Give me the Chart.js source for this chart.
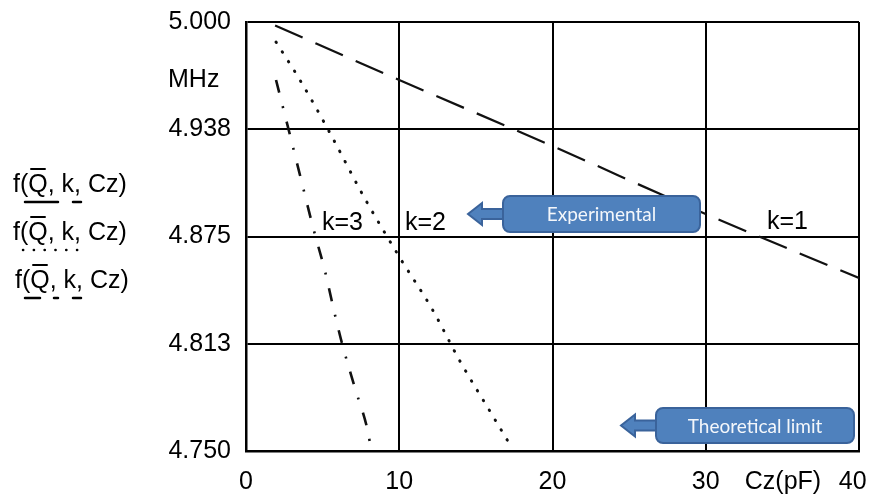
<!DOCTYPE html>
<html>
<head>
<meta charset="utf-8">
<title>f(Q, k, Cz)</title>
<script src="https://cdn.jsdelivr.net/npm/chart.js"></script>
<style>
  html, body { margin: 0; padding: 0; background: #fff; }
  #chart { display: block; }
</style>
</head>
<body>
<canvas id="chart" width="870" height="495"></canvas>
<script>
// values (Cz in pF, frequency in MHz)
const czK1 = [1.9, 10, 20, 30, 40];
const freqK1 = [4.998, 4.9662, 4.9277, 4.8881, 4.8508];

const czK2 = [1.96, 3.52, 5.48, 7.70, 10.05, 12.14, 13.96, 15.99, 17.16];
const freqK2 = [4.9883, 4.9662, 4.9353, 4.8980, 4.8625, 4.8328, 4.8024, 4.7721, 4.7547];

const czK3 = [1.96, 2.87, 3.65, 4.37, 5.15, 5.81, 6.26, 7.11, 7.96, 8.16];
const freqK3 = [4.9662, 4.9341, 4.9062, 4.8805, 4.8549, 4.8292, 4.8129, 4.7867, 4.7611, 4.7506];

const xTicks = [0, 10, 20, 30, 40];
const yTicks = [4.75, 4.8125, 4.875, 4.9375, 5.0];

const FONT = '"Liberation Sans", Arial, sans-serif';

function toPoints(xs, ys) {
  return xs.map((x, i) => ({ x: x, y: ys[i] }));
}

// blue callout box with an arrow pointing left
function callout(ctx, l, t, r, b, tipX, label) {
  const cy = (t + b) / 2;
  const headBase = tipX + 14;
  ctx.save();
  ctx.fillStyle = '#4f81bd';
  ctx.strokeStyle = '#3a639b';
  ctx.lineWidth = 2;
  ctx.beginPath();
  ctx.moveTo(l + 4, cy - 5);
  ctx.lineTo(headBase, cy - 5);
  ctx.lineTo(headBase, cy - 11);
  ctx.lineTo(tipX, cy);
  ctx.lineTo(headBase, cy + 11);
  ctx.lineTo(headBase, cy + 5);
  ctx.lineTo(l + 4, cy + 5);
  ctx.closePath();
  ctx.fill();
  ctx.stroke();
  ctx.beginPath();
  ctx.roundRect(l, t, r - l, b - t, 7);
  ctx.fill();
  ctx.stroke();
  ctx.fillStyle = '#f4f7fb';
  ctx.font = '19px Lato, "Open Sans", sans-serif';
  ctx.textAlign = 'center';
  ctx.textBaseline = 'middle';
  ctx.fillText(label, (l + r) / 2, cy + 1);
  ctx.restore();
}

// one "f(Q, k, Cz)" legend row, with overline on Q and a line-style sample under it
function legendRow(ctx, x, base, under) {
  ctx.save();
  ctx.font = '25px ' + FONT;
  ctx.fillStyle = '#000';
  ctx.textAlign = 'left';
  ctx.textBaseline = 'alphabetic';
  ctx.fillText('f(Q, k, Cz)', x, base);
  const qx = x + ctx.measureText('f(').width;
  const qw = ctx.measureText('Q').width;
  ctx.strokeStyle = '#000';
  ctx.lineWidth = 2;
  ctx.beginPath();
  ctx.moveTo(qx + 2, base - 23);
  ctx.lineTo(qx + qw - 2, base - 23);
  ctx.stroke();
  // sample of the line style
  ctx.lineWidth = 2.5;
  ctx.lineCap = 'round';
  ctx.beginPath();
  under.forEach(seg => {
    ctx.moveTo(x + seg[0], base + 10);
    ctx.lineTo(x + seg[1], base + 10);
  });
  ctx.stroke();
  ctx.restore();
}

const textPlugin = {
  id: 'chartText',
  afterDraw(chart) {
    const ctx = chart.ctx;
    const area = chart.chartArea;
    ctx.save();
    ctx.fillStyle = '#000';
    ctx.font = '25px ' + FONT;
    ctx.textBaseline = 'alphabetic';
    ctx.textAlign = 'left';
    ctx.fillText('MHz', 168, 87);
    ctx.fillText('k=3', 322, 230);
    ctx.fillText('k=2', 405, 230);
    ctx.fillText('k=1', 767, 229);
    ctx.textAlign = 'center';
    ctx.textBaseline = 'middle';
    ctx.fillText('Cz(pF)', 783, area.bottom + 31);
    ctx.restore();

    callout(ctx, 503, 196, 700, 232, 468, 'Experimental');
    callout(ctx, 656, 408, 854, 443, 621, 'Theoretical limit');

    // legend on the left
    legendRow(ctx, 13, 192, [[12, 45], [60, 68]]);
    const dots = [];
    for (let i = 0; i < 6; i++) dots.push([10 + i * 10.8, 10.2 + i * 10.8]);
    legendRow(ctx, 13, 240, dots);
    legendRow(ctx, 15, 288, [[10, 25], [39, 43], [58, 66]]);
  }
};

new Chart(document.getElementById('chart'), {
  type: 'line',
  data: {
    datasets: [
      {
        label: 'k=1',
        data: toPoints(czK1, freqK1),
        borderColor: '#111',
        borderWidth: 2.2,
        borderDash: [30, 14],
        pointRadius: 0,
        cubicInterpolationMode: 'monotone'
      },
      {
        label: 'k=2',
        data: toPoints(czK2, freqK2),
        borderColor: '#111',
        borderWidth: 3,
        borderDash: [0.5, 11],
        borderCapStyle: 'round',
        pointRadius: 0,
        cubicInterpolationMode: 'monotone'
      },
      {
        label: 'k=3',
        data: toPoints(czK3, freqK3),
        borderColor: '#111',
        borderWidth: 2.6,
        borderDash: [13, 14, 2, 14],
        pointRadius: 0,
        cubicInterpolationMode: 'monotone'
      }
    ]
  },
  options: {
    responsive: false,
    animation: false,
    events: [],
    layout: { padding: { top: 22, right: 11, left: 0, bottom: 0 } },
    plugins: {
      legend: { display: false },
      tooltip: { enabled: false }
    },
    scales: {
      x: {
        type: 'linear',
        min: 0,
        max: 40,
        afterBuildTicks: s => { s.ticks = xTicks.map(v => ({ value: v })); },
        afterFit: s => { s.height = 44; s.paddingLeft = 0; s.paddingRight = 0; },
        ticks: {
          color: '#000',
          font: { family: FONT, size: 25 },
          padding: 16,
          maxRotation: 0,
          // last label sits a little inside the frame, as in the picture
          callback: v => (v === 40 ? v + '\u2002' : String(v))
        },
        grid: { color: '#000', lineWidth: 2, drawTicks: false },
        border: { color: '#000', width: 2.5 }
      },
      y: {
        min: 4.75,
        max: 5.0,
        afterBuildTicks: s => { s.ticks = yTicks.map(v => ({ value: v })); },
        afterFit: s => { s.width = 246; s.paddingTop = 0; s.paddingBottom = 0; },
        ticks: {
          color: '#000',
          font: { family: FONT, size: 25 },
          padding: 15,
          callback: v => v.toFixed(3)
        },
        grid: { color: '#000', lineWidth: 2, drawTicks: false },
        border: { color: '#000', width: 2.5 }
      }
    }
  },
  plugins: [textPlugin]
});
</script>
</body>
</html>
